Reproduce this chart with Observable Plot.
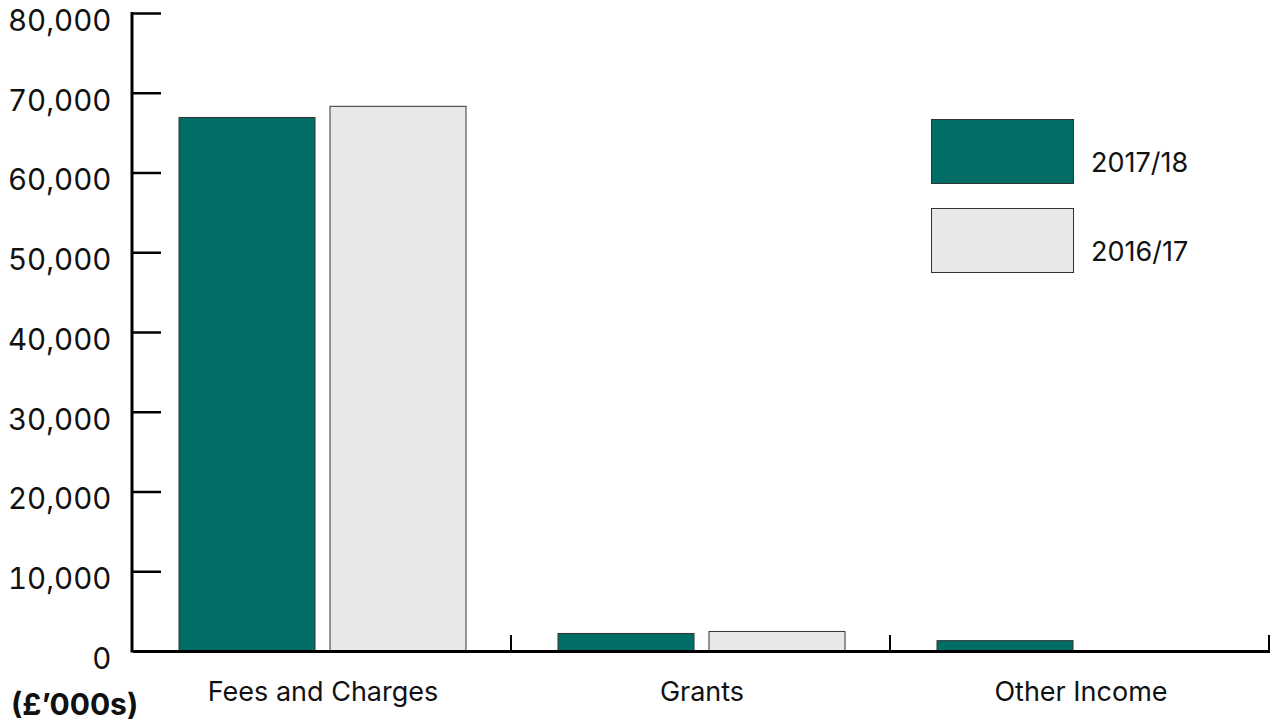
<!DOCTYPE html>
<html>
<head>
<meta charset="utf-8">
<script src="https://cdn.jsdelivr.net/npm/d3@7"></script>
<script src="https://cdn.jsdelivr.net/npm/@observablehq/plot@0.6"></script>
<style>
  html, body { margin: 0; padding: 0; background: #fff; }
  #wrap { position: relative; width: 1272px; height: 725px; font-family: Inter, Lato, sans-serif; }
  .legend-item { position: absolute; left: 931px; display: flex; align-items: flex-end; }
  .swatch { width: 141px; height: 63px; border: 1px solid #333; box-sizing: content-box; }
  .legend-label { font-size: 27px; color: #111; margin-left: 17px; line-height: 1; margin-bottom: 8px; }
</style>
</head>
<body>
<div id="wrap"></div>
<script>
// Income by source, £'000s
const categories = ["Fees and Charges", "Grants", "Other Income"];
const years = ["2017/18", "2016/17"];
const income2017_18 = [66900, 2200, 1300];
const income2016_17 = [68300, 2450, 0];
const yTicks = [0, 10000, 20000, 30000, 40000, 50000, 60000, 70000, 80000];
const yearColors = ["#006E67", "#E8E8E8"];

const rows = categories.flatMap((category, i) => [
  {category, year: years[0], value: income2017_18[i]},
  {category, year: years[1], value: income2016_17[i]}
]);

const chart = Plot.plot({
  width: 1272,
  height: 725,
  marginLeft: 132,
  marginRight: 2,
  marginTop: 13,
  marginBottom: 74,
  style: {fontFamily: "Inter, Lato, sans-serif", color: "#111", background: "#fff", overflow: "visible"},
  fx: {domain: categories, padding: 0, label: null},
  x: {domain: years, paddingInner: 0.099, paddingOuter: 0.297, axis: null},
  y: {domain: [0, 80000], label: null},
  color: {domain: years, range: yearColors},
  marks: [
    Plot.barY(rows, {fx: "category", x: "year", y: "value", fill: "year", stroke: "#333", strokeWidth: 1}),
    Plot.ruleY([0], {stroke: "#000", strokeWidth: 3}),
    Plot.axisY({ticks: yTicks, tickSize: -28, fill: "none", stroke: "#000", strokeWidth: 2.5, label: null}),
    Plot.axisY({ticks: yTicks, tickSize: 0, tickPadding: 22, tickFormat: d3.format(","), fontSize: 29.5, dy: 8, label: null}),
    Plot.axisFx({anchor: "bottom", tickSize: 0, tickPadding: 30, fontSize: 27, label: null})
  ]
});

// vertical axis line and category separators on the baseline
const fx = chart.scale("fx");
const y = chart.scale("y");
const g = d3.select(chart).append("g").attr("stroke", "#000");
g.append("line")
  .attr("x1", fx.range[0]).attr("x2", fx.range[0])
  .attr("y1", y.apply(80000) - 1).attr("y2", y.apply(0) + 1.5)
  .attr("stroke-width", 3);
categories.forEach(c => {
  const xr = fx.apply(c) + fx.bandwidth - 1;
  g.append("line")
    .attr("x1", xr).attr("x2", xr)
    .attr("y1", y.apply(0)).attr("y2", y.apply(0) - 16)
    .attr("stroke-width", 2);
});

// unit label under the value axis
d3.select(chart).append("text")
  .attr("x", 11).attr("y", 715)
  .attr("text-anchor", "start")
  .attr("font-size", 30).attr("font-weight", "bold")
  .attr("fill", "#111")
  .text("(£’000s)");

const wrap = document.getElementById("wrap");
wrap.appendChild(chart);

// legend
const legendTops = [119, 208];
years.forEach((yr, i) => {
  const item = document.createElement("div");
  item.className = "legend-item";
  item.style.top = legendTops[i] + "px";
  const sw = document.createElement("div");
  sw.className = "swatch";
  sw.style.background = yearColors[i];
  const lab = document.createElement("div");
  lab.className = "legend-label";
  lab.textContent = yr;
  item.appendChild(sw);
  item.appendChild(lab);
  wrap.appendChild(item);
});
</script>
</body>
</html>
